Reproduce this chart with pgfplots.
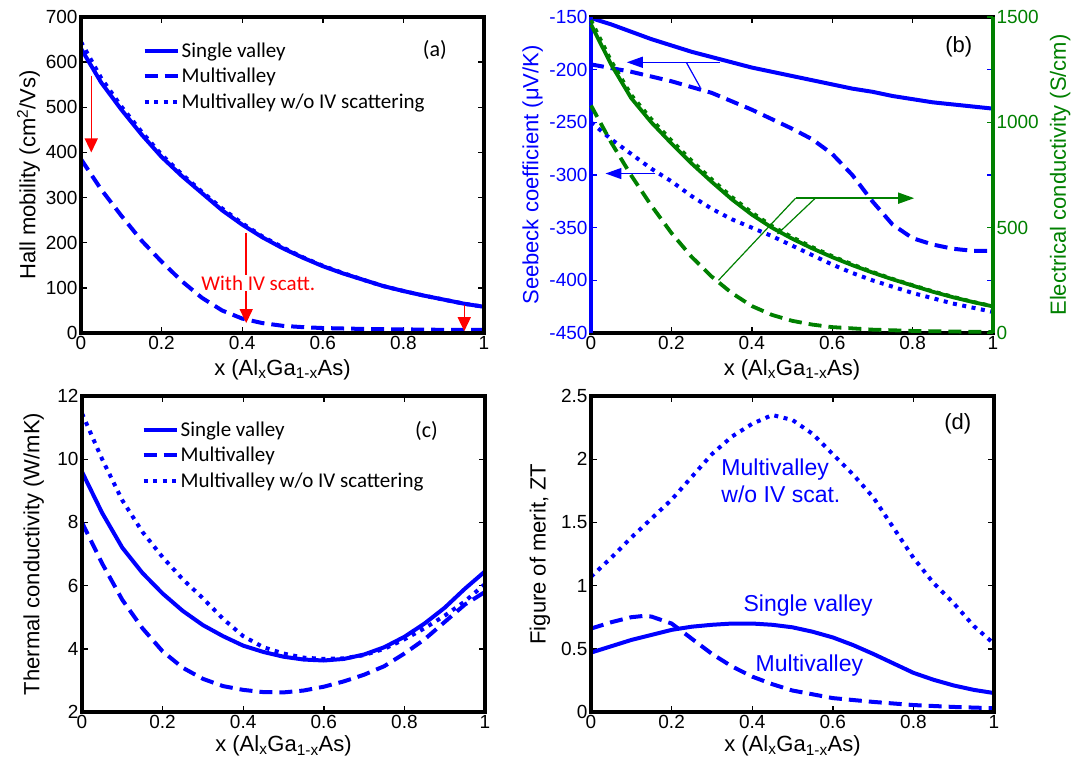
\documentclass[border=0pt]{standalone}
\usepackage{fontspec}
\setmainfont{Liberation Sans}
\newfontfamily\calib{Carlito}
\usepackage{pgfplots}
\pgfplotsset{compat=1.18}
\usetikzlibrary{arrows.meta}
\definecolor{mblue}{RGB}{0,0,255}
\definecolor{mgreen}{RGB}{0,128,0}
\definecolor{mred}{RGB}{255,0,0}
\newcommand{\lblfont}{\fontsize{22}{26}\selectfont}
\newcommand{\frm}{\draw[line width=3.2pt, line cap=rect, black] (rel axis cs:0,0) rectangle (rel axis cs:1,1);}
\pgfplotsset{
  panel/.style={
    scale only axis, width=403pt, height=316pt,
    xmin=0, xmax=1, xtick={0,0.2,0.4,0.6,0.8,1},
    tick style={line width=1.4pt, black}, major tick length=6pt,
    tick align=inside,
    /pgf/number format/assume math mode=true,
    /pgf/number format/1000 sep={},
    scaled ticks=false,
    ticklabel style={font=\fontsize{19}{22}\selectfont},
    xlabel={x (Al\textsubscript{x}Ga\textsubscript{1-x}As)},
    every axis x label/.style={at={(axis description cs:0.5,-0.115)}, anchor=center, font=\lblfont},
    clip=false,
  },
  sv/.style={mblue, line width=4pt},
  mv/.style={mblue, line width=4pt, dash pattern=on 13pt off 7pt},
  mvo/.style={mblue, line width=4pt, dash pattern=on 4pt off 5.5pt},
  gsv/.style={mgreen, line width=3.8pt},
  gmv/.style={mgreen, line width=3.8pt, dash pattern=on 13pt off 7pt},
  gmvo/.style={mgreen, line width=3.8pt, dash pattern=on 4pt off 5.5pt},
  leg/.style={legend style={draw=none, fill=none, at={(#1)}, anchor=north west,
      font=\calib\fontsize{21}{25}\selectfont, row sep=5pt, nodes={inner sep=2pt}},
    legend cell align=left,
    legend image code/.code={\draw[##1] (0pt,0pt) -- (33pt,0pt);}},
}
\begin{document}
\begin{tikzpicture}
\path[use as bounding box] (0,0) rectangle (1083pt,-760pt);
% (a)
\begin{axis}[panel, at={(81pt,-333pt)}, anchor=south west,
  ymin=0, ymax=700, ytick={0,100,...,700},
  ylabel={Hall mobility (cm\textsuperscript{2}/Vs)},
  every axis y label/.style={at={(axis description cs:-0.13,0.5)}, rotate=90, anchor=center, font=\lblfont},
  leg={0.145,0.93}]
\addplot[sv] coordinates {(0,630)(0.05,555)(0.1,495)(0.15,440)(0.2,390)(0.25,348)(0.3,310)(0.35,272)(0.4,240)(0.45,212)(0.5,188)(0.55,167)(0.6,148)(0.65,132)(0.7,118)(0.75,104)(0.8,93)(0.85,83)(0.9,74)(0.95,65)(1,58)};
\addlegendentry{Single valley}
\addplot[mv] coordinates {(0,385)(0.05,318)(0.1,260)(0.15,205)(0.2,158)(0.25,115)(0.3,78)(0.35,50)(0.4,32)(0.45,22)(0.5,16)(0.55,13)(0.6,11)(0.7,9)(0.8,8)(0.9,7)(1,7)};
\addlegendentry{Multivalley}
\addplot[mvo] coordinates {(0,645)(0.05,565)(0.1,502)(0.15,446)(0.2,395)(0.25,352)(0.3,313)(0.35,276)(0.4,243)(0.45,214)(0.5,190)(0.55,168)(0.6,149)(0.65,133)(0.7,118)(0.75,104)(0.8,93)(0.85,83)(0.9,74)(0.95,65)(1,58)};
\addlegendentry{Multivalley w/o IV scattering}
\draw[mred, line width=1.5pt, -{Triangle[width=13pt,length=14pt]}] (axis cs:0.0255,570) -- (axis cs:0.0255,400);
\draw[mred, line width=1.5pt, -{Triangle[width=13pt,length=14pt]}] (axis cs:0.41,222) -- (axis cs:0.41,22);
\draw[mred, line width=1.5pt, -{Triangle[width=13pt,length=14pt]}] (axis cs:0.951,63) -- (axis cs:0.951,4);
\node[mred, font=\calib\fontsize{21}{25}\selectfont, fill=white, inner sep=1pt] at (axis cs:0.44,111) {With IV scatt.};
\node[font=\calib\fontsize{22}{26}\selectfont] at (axis cs:0.878,628) {(a)};
\frm
\end{axis}
% (b) left
\begin{axis}[panel, at={(591pt,-333pt)}, anchor=south west, width=402pt,
  ymin=-450, ymax=-150, ytick={-450,-400,...,-150},
  ytick style={mblue, line width=1.4pt},
  yticklabel style={mblue},
  ylabel={Seebeck coefficient (μV/K)},
  every axis y label/.style={at={(axis description cs:-0.145,0.5)}, rotate=90, anchor=center, font=\lblfont, mblue}]
\addplot[sv] coordinates {(0,-151)(0.05,-157)(0.1,-164)(0.15,-171)(0.2,-177)(0.25,-183)(0.3,-188)(0.35,-193)(0.4,-198)(0.45,-202)(0.5,-206)(0.55,-210)(0.6,-214)(0.65,-218)(0.7,-221)(0.75,-225)(0.8,-228)(0.85,-231)(0.9,-233)(0.95,-235)(1,-237)};
\addplot[mv] coordinates {(0,-195)(0.1,-202)(0.2,-211)(0.3,-222)(0.4,-238)(0.5,-256)(0.55,-266)(0.6,-280)(0.65,-300)(0.7,-325)(0.75,-347)(0.8,-360)(0.85,-366)(0.9,-370)(0.95,-372)(1,-372)};
\addplot[mvo] coordinates {(0,-250)(0.05,-266)(0.1,-280)(0.15,-294)(0.2,-306)(0.25,-320)(0.3,-332)(0.35,-342)(0.4,-350)(0.45,-358)(0.5,-367)(0.55,-376)(0.6,-385)(0.65,-393)(0.7,-400)(0.75,-406)(0.8,-412)(0.85,-417)(0.9,-422)(0.95,-426)(1,-430)};
\draw[mblue, line width=1.5pt, -{Triangle[width=11pt,length=16pt]}] (axis cs:0.32,-193) -- (axis cs:0.089,-193);
\draw[mblue, line width=1.2pt] (axis cs:0.237,-193) -- (axis cs:0.272,-217);
\draw[mblue, line width=1.5pt, -{Triangle[width=11pt,length=16pt]}] (axis cs:0.16,-298.6) -- (axis cs:0.036,-298.6);
\draw[mgreen, line width=1.5pt, -{Triangle[width=11pt,length=16pt]}] (axis cs:0.509,-322) -- (axis cs:0.804,-322);
\draw[mgreen, line width=1.2pt] (axis cs:0.509,-322) -- (axis cs:0.317,-400);
\draw[mgreen, line width=1.2pt] (axis cs:0.558,-322) -- (axis cs:0.464,-356);
\node[font=\fontsize{22}{26}\selectfont] at (axis cs:0.915,-178) {(b)};
\draw[line width=3.2pt, line cap=rect, black] (rel axis cs:0,0) -- (rel axis cs:1,0);
\draw[line width=3.2pt, line cap=rect, black] (rel axis cs:0,1) -- (rel axis cs:1,1);
\draw[line width=3.2pt, mblue] (rel axis cs:0,0) -- (rel axis cs:0,1);
\end{axis}
% (b) right
\begin{axis}[scale only axis, width=402pt, height=316pt, at={(591pt,-333pt)}, anchor=south west,
  xmin=0, xmax=1, hide x axis, axis y line*=right,
  ymin=0, ymax=1500, ytick={0,500,1000,1500},
  y axis line style={-, mgreen, line width=3.2pt},
  tick align=inside, major tick length=6pt,
  ytick style={mgreen, line width=1.4pt},
  /pgf/number format/assume math mode=true,
  /pgf/number format/1000 sep={},
  scaled ticks=false,
  yticklabel style={mgreen, font=\fontsize{19}{22}\selectfont},
  ylabel={Electrical conductivity (S/cm)},
  every axis y label/.style={at={(axis description cs:1.167,0.5)}, rotate=90, anchor=center, mgreen, font=\lblfont},
  clip=false]
\addplot[gsv] coordinates {(0,1465)(0.05,1275)(0.1,1115)(0.15,1000)(0.2,900)(0.25,805)(0.3,718)(0.35,635)(0.4,562)(0.45,500)(0.5,448)(0.55,402)(0.6,360)(0.65,322)(0.7,287)(0.75,255)(0.8,225)(0.85,196)(0.9,170)(0.95,147)(1,126)};
\addplot[gmvo] coordinates {(0,1485)(0.05,1292)(0.1,1130)(0.15,1015)(0.2,914)(0.25,818)(0.3,730)(0.35,646)(0.4,572)(0.45,508)(0.5,455)(0.55,408)(0.6,365)(0.65,326)(0.7,290)(0.75,257)(0.8,227)(0.85,198)(0.9,172)(0.95,148)(1,127)};
\addplot[gmv] coordinates {(0,1080)(0.05,905)(0.1,748)(0.15,605)(0.2,475)(0.25,362)(0.3,268)(0.35,190)(0.4,128)(0.45,86)(0.5,58)(0.55,40)(0.6,28)(0.7,16)(0.8,10)(0.9,7)(1,5)};
\draw[line width=3.2pt, mgreen] (rel axis cs:1,0) -- (rel axis cs:1,1);
\end{axis}
% (c)
\begin{axis}[panel, at={(82pt,-712pt)}, anchor=south west,
  ymin=2, ymax=12, ytick={2,4,...,12},
  every axis x label/.style={at={(axis description cs:0.5,-0.108)}, anchor=center, font=\lblfont},
  ylabel={Thermal conductivity (W/mK)},
  every axis y label/.style={at={(axis description cs:-0.12,0.5)}, rotate=90, anchor=center, font=\lblfont},
  leg={0.14,0.93}]
\addplot[sv] coordinates {(0,9.6)(0.05,8.3)(0.1,7.2)(0.15,6.4)(0.2,5.75)(0.25,5.2)(0.3,4.75)(0.35,4.4)(0.4,4.1)(0.45,3.9)(0.5,3.75)(0.55,3.66)(0.6,3.63)(0.65,3.68)(0.7,3.82)(0.75,4.05)(0.8,4.38)(0.85,4.8)(0.9,5.3)(0.95,5.9)(1,6.45)};
\addlegendentry{Single valley}
\addplot[mv] coordinates {(0,8.0)(0.05,6.7)(0.1,5.55)(0.15,4.65)(0.2,3.92)(0.25,3.4)(0.3,3.05)(0.35,2.82)(0.4,2.7)(0.45,2.63)(0.5,2.62)(0.55,2.68)(0.6,2.8)(0.65,2.97)(0.7,3.18)(0.75,3.45)(0.8,3.85)(0.85,4.3)(0.9,4.85)(0.95,5.4)(1,5.8)};
\addlegendentry{Multivalley}
\addplot[mvo] coordinates {(0,11.45)(0.05,10.0)(0.1,8.7)(0.15,7.7)(0.2,6.9)(0.25,6.2)(0.3,5.6)(0.35,4.95)(0.4,4.4)(0.45,4.05)(0.5,3.85)(0.55,3.72)(0.6,3.68)(0.65,3.7)(0.7,3.8)(0.75,4.0)(0.8,4.3)(0.85,4.65)(0.9,5.05)(0.95,5.5)(1,6.05)};
\addlegendentry{Multivalley w/o IV scattering}
\node[font=\calib\fontsize{22}{26}\selectfont] at (axis cs:0.855,10.9) {(c)};
\frm
\end{axis}
% (d)
\begin{axis}[panel, at={(591pt,-712pt)}, anchor=south west,
  ymin=0, ymax=2.5, ytick={0,0.5,1,1.5,2,2.5},
  every axis x label/.style={at={(axis description cs:0.5,-0.108)}, anchor=center, font=\lblfont},
  ylabel={Figure of merit, ZT},
  every axis y label/.style={at={(axis description cs:-0.127,0.5)}, rotate=90, anchor=center, font=\lblfont}]
\addplot[sv] coordinates {(0,0.47)(0.05,0.52)(0.1,0.57)(0.15,0.61)(0.2,0.65)(0.25,0.675)(0.3,0.69)(0.35,0.70)(0.4,0.70)(0.45,0.69)(0.5,0.67)(0.55,0.635)(0.6,0.59)(0.65,0.53)(0.7,0.46)(0.75,0.385)(0.8,0.31)(0.85,0.255)(0.9,0.21)(0.95,0.175)(1,0.15)};
\addplot[mv] coordinates {(0,0.66)(0.05,0.71)(0.1,0.75)(0.13,0.76)(0.15,0.755)(0.2,0.70)(0.25,0.58)(0.3,0.46)(0.35,0.36)(0.4,0.28)(0.45,0.22)(0.5,0.17)(0.6,0.11)(0.7,0.08)(0.8,0.055)(0.9,0.04)(1,0.03)};
\addplot[mvo] coordinates {(0,1.07)(0.05,1.22)(0.1,1.38)(0.15,1.53)(0.2,1.68)(0.25,1.86)(0.3,2.04)(0.35,2.18)(0.4,2.28)(0.45,2.35)(0.5,2.31)(0.55,2.20)(0.6,2.04)(0.65,1.88)(0.7,1.70)(0.75,1.46)(0.8,1.22)(0.85,1.02)(0.9,0.86)(0.95,0.68)(1,0.54)};
\node[mblue, anchor=west, align=left, font=\fontsize{23}{27}\selectfont] at (axis cs:0.315,1.83) {Multivalley\\w/o IV scat.};
\node[mblue, anchor=west, font=\fontsize{23}{27}\selectfont] at (axis cs:0.37,0.84) {Single valley};
\node[mblue, anchor=west, font=\fontsize{23}{27}\selectfont] at (axis cs:0.40,0.37) {Multivalley};
\node[font=\fontsize{22}{26}\selectfont] at (axis cs:0.91,2.28) {(d)};
\frm
\end{axis}
\end{tikzpicture}
\end{document}
